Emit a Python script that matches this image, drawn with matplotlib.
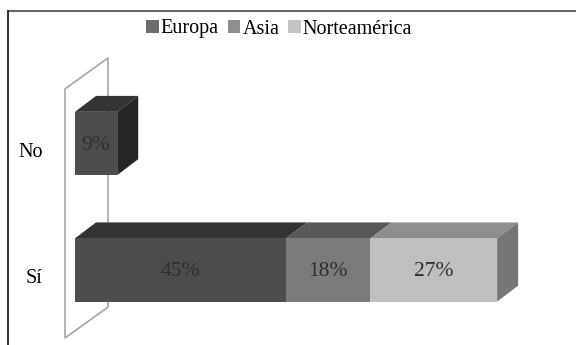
import matplotlib
matplotlib.use('Agg')
import matplotlib.pyplot as plt
from matplotlib.patches import Polygon, Patch
from matplotlib.lines import Line2D

plt.rcParams['font.family'] = ['Liberation Serif', 'DejaVu Serif']

categories = ['Sí', 'No']
series = ['Europa', 'Asia', 'Norteamérica']
europa = [45, 9]
asia = [18, 0]
norteamerica = [27, 0]

front_colors = ['#4d4d4d', '#7b7b7b', '#bfbfbf']
top_colors = ['#333333', '#585858', '#8e8e8e']
side_colors = ['#262626', '#4a4a4a', '#767676']
legend_colors = ['#6d6d6d', '#8e8e8e', '#c4c4c4']

# fake 3d: depth of the boxes and of the back wall, in data units
bar_h = 0.5
dx, dy = 4.48, 0.126
wall_dx, wall_dy = 9.17, 0.245

fig = plt.figure(figsize=(5.76, 3.45), dpi=100)
ax = fig.add_axes([0, 0, 1, 1])
ax.set_xlim(-15.99, 106.82)
ax.set_ylim(-0.593, 2.134)
ax.axis('off')

# back wall
wx, wy0, wy1 = -2.13, -0.538, 1.431
wall = Polygon([(wx, wy0), (wx, wy1), (wx + wall_dx, wy1 + wall_dy),
                (wx + wall_dx, wy0 + wall_dy)], closed=True,
               facecolor='white', edgecolor='#a6a6a6', lw=1.2, zorder=1)
ax.add_patch(wall)

values = [europa, asia, norteamerica]
for i, cat in enumerate(categories):
    left = 0
    segs = []
    for s in range(len(series)):
        v = values[s][i]
        if v > 0:
            segs.append((s, left, v))
        left += v
    bottom, top = i - bar_h / 2, i + bar_h / 2
    # top faces
    for s, l, v in segs:
        ax.add_patch(Polygon([(l, top), (l + v, top), (l + v + dx, top + dy),
                              (l + dx, top + dy)], closed=True,
                             facecolor=top_colors[s], edgecolor='none', zorder=2))
    # right side face of the last segment
    s, l, v = segs[-1]
    r = l + v
    ax.add_patch(Polygon([(r, bottom), (r, top), (r + dx, top + dy),
                          (r + dx, bottom + dy)], closed=True,
                         facecolor=side_colors[s], edgecolor='none', zorder=2))
    # front faces
    for s, l, v in segs:
        ax.barh(i, v, left=l, height=bar_h, color=front_colors[s],
                edgecolor='none', zorder=3)
        ax.text(l + v / 2, i - 0.015, f'{v}%', ha='center', va='center',
                fontsize=15.5, color='#2e2e2e', zorder=4)
    ax.text(-6.9, i - 0.07, cat, ha='right', va='center', fontsize=14.5,
            color='black')

handles = [Patch(facecolor=c, edgecolor='none') for c in legend_colors]
fig.legend(handles, series, loc='center', bbox_to_anchor=(0.485, 1 - 29 / 345),
           ncol=3, frameon=False, fontsize=14.5, handlelength=0.6,
           handleheight=0.6, handletextpad=0.12, columnspacing=0.45,
           borderaxespad=0)

# chart border (top and left edges)
fig.add_artist(Line2D([7.5 / 576, 1], [1 - 10.5 / 345] * 2, color='#555555',
                      lw=1.3, transform=fig.transFigure))
fig.add_artist(Line2D([7.5 / 576] * 2, [0, 1 - 10.5 / 345], color='#222222',
                      lw=1.3, transform=fig.transFigure))

fig.savefig('out.png', dpi=100)
